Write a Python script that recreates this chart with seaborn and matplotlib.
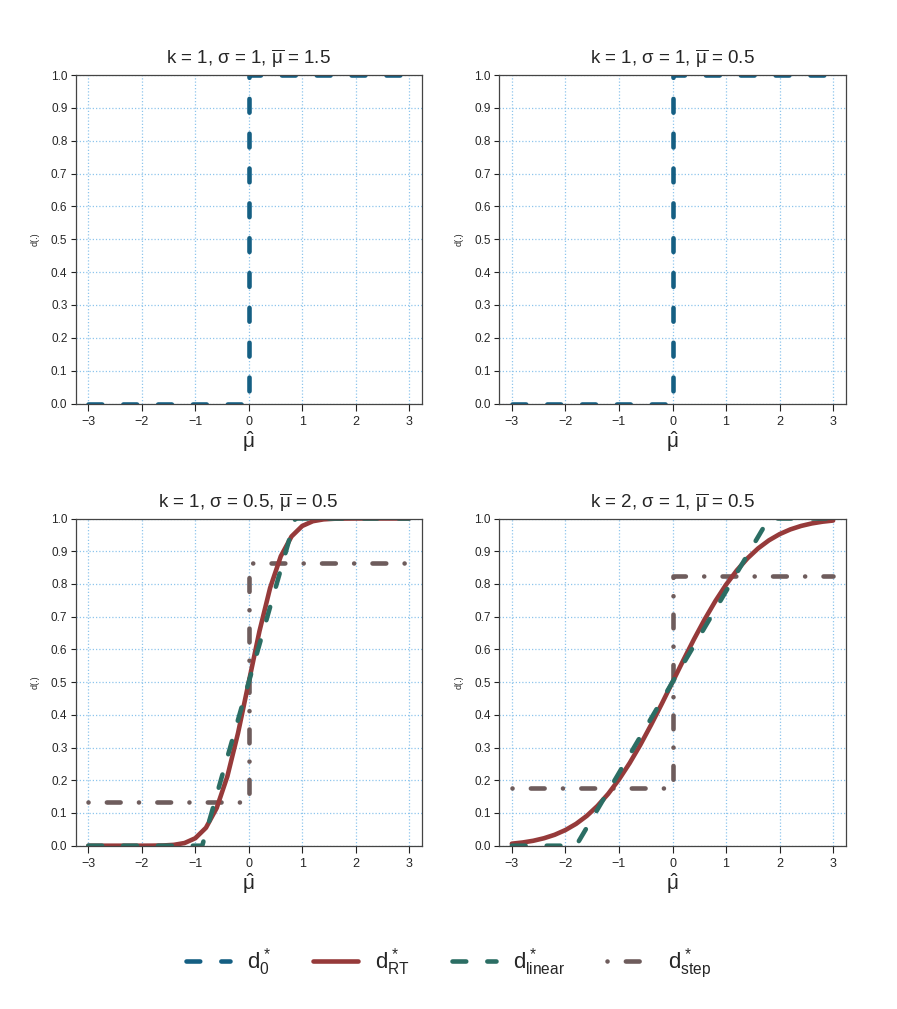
import numpy as np
import pandas as pd
import matplotlib
matplotlib.use("Agg")
import matplotlib.pyplot as plt
from matplotlib.lines import Line2D
import seaborn as sns

# ---------------- data ----------------
titles = [r"k = 1, $\sigma$ = 1, $\overline{\mu}$ = 1.5",
          r"k = 1, $\sigma$ = 1, $\overline{\mu}$ = 0.5",
          r"k = 1, $\sigma$ = 0.5, $\overline{\mu}$ = 0.5",
          r"k = 2, $\sigma$ = 1, $\overline{\mu}$ = 0.5"]

x_ticks = [-3, -2, -1, 0, 1, 2, 3]
y_ticks = [0.0, 0.1, 0.2, 0.3, 0.4, 0.5, 0.6, 0.7, 0.8, 0.9, 1.0]

# d0* : threshold rule (top panels)
d0_x = [-3.0, 0.0, 0.0, 3.0]
d0_y = [0.0, 0.0, 1.0, 1.0]

# common grid for the smooth d_RT curves
mu_grid = [-3.0, -2.8, -2.6, -2.4, -2.2, -2.0, -1.8, -1.6, -1.4, -1.2, -1.0,
           -0.8, -0.6, -0.4, -0.2, 0.0, 0.2, 0.4, 0.6, 0.8, 1.0,
           1.2, 1.4, 1.6, 1.8, 2.0, 2.2, 2.4, 2.6, 2.8, 3.0]

# panel 3 (k = 1, sigma = 0.5)
rt3_y = [0.0, 0.0, 0.0, 0.0, 0.0, 0.0, 0.0002, 0.0007, 0.0026, 0.0082, 0.0228,
         0.0548, 0.1151, 0.2119, 0.3446, 0.5, 0.6554, 0.7881, 0.8849, 0.9452, 0.9772,
         0.9918, 0.9974, 0.9993, 0.9998, 1.0, 1.0, 1.0, 1.0, 1.0, 1.0]
lin3_x = [-3.0, -0.87, 0.87, 3.0]
lin3_y = [0.0, 0.0, 1.0, 1.0]
step3_x = [-3.0, 0.0, 0.0, 3.0]
step3_y = [0.135, 0.135, 0.865, 0.865]

# panel 4 (k = 2, sigma = 1)
rt4_y = [0.0062, 0.0098, 0.0151, 0.0228, 0.0334, 0.0478, 0.0668, 0.0912, 0.1217, 0.1587, 0.2023,
         0.2525, 0.3085, 0.3694, 0.4338, 0.5, 0.5662, 0.6306, 0.6915, 0.7475, 0.7977,
         0.8413, 0.8783, 0.9088, 0.9332, 0.9522, 0.9666, 0.9772, 0.9849, 0.9902, 0.9938]
lin4_x = [-3.0, -1.8, 1.8, 3.0]
lin4_y = [0.0, 0.0, 1.0, 1.0]
step4_x = [-3.0, 0.0, 0.0, 3.0]
step4_y = [0.175, 0.175, 0.825, 0.825]

legend_labels = [r"$d_0^*$", r"$d_{RT}^*$", r"$d_{linear}^*$", r"$d_{step}^*$"]

# ---------------- style ----------------
sns.set_style("ticks")
plt.rcParams["font.family"] = ["Liberation Sans", "DejaVu Sans"]
plt.rcParams["mathtext.fontset"] = "custom"
plt.rcParams["mathtext.rm"] = "Liberation Sans"
plt.rcParams["mathtext.it"] = "Liberation Sans"
plt.rcParams["mathtext.bf"] = "Liberation Sans:bold"
plt.rcParams["mathtext.sf"] = "Liberation Sans"

C_D0 = "#155F83"
C_RT = "#963a3a"
C_LIN = "#2b6e64"
C_STEP = "#6e5c5c"
LW = 3.3
DASH = (0, (3.0, 4.6))
DOTDASH = (0, (0.01, 4.0, 3.0, 4.0))

styles = {
    "d0": dict(color=C_D0, lw=LW, linestyle=DASH),
    "rt": dict(color=C_RT, lw=LW, linestyle="-"),
    "lin": dict(color=C_LIN, lw=LW, linestyle=DASH),
    "step": dict(color=C_STEP, lw=LW, linestyle=DOTDASH),
}

W, H = 897, 1009
fig = plt.figure(figsize=(W / 100, H / 100), dpi=100)

def frac(l, t, r, b):
    return [l / W, 1 - b / H, (r - l) / W, (b - t) / H]

rects = [frac(75.5, 75, 422, 403.5), frac(499, 75, 846, 403.5),
         frac(75.5, 518.5, 422, 845.7), frac(499, 518.5, 846, 845.7)]

def draw(ax, xs, ys, key):
    df = pd.DataFrame({"x": xs, "y": ys})
    st = styles[key]
    sns.lineplot(data=df, x="x", y="y", ax=ax, estimator=None, sort=False,
                 color=st["color"], lw=st["lw"], linestyle=st["linestyle"],
                 dash_capstyle="round", solid_capstyle="round",
                 solid_joinstyle="round", clip_on=True)

for i, rect in enumerate(rects):
    ax = fig.add_axes(rect)
    ax.set_xlim(-3.24, 3.24)
    ax.set_ylim(0, 1)
    ax.set_xticks(x_ticks)
    ax.set_yticks(y_ticks)
    ax.set_yticklabels([f"{v:.1f}" for v in y_ticks])
    ax.set_xticklabels([str(v).replace("-", "\u2212") for v in x_ticks])
    for v in x_ticks:
        ax.axvline(v, color="#8ec5ec", lw=0.9, linestyle=(0, (1, 1.6)), zorder=0.5)
    for v in y_ticks:
        ax.axhline(v, color="#8ec5ec", lw=0.9, linestyle=(0, (1, 1.6)), zorder=0.5)
    if i < 2:
        draw(ax, d0_x, d0_y, "d0")
    elif i == 2:
        draw(ax, step3_x, step3_y, "step")
        draw(ax, mu_grid, rt3_y, "rt")
        draw(ax, lin3_x, lin3_y, "lin")
    else:
        draw(ax, step4_x, step4_y, "step")
        draw(ax, mu_grid, rt4_y, "rt")
        draw(ax, lin4_x, lin4_y, "lin")
    for s in ax.spines.values():
        s.set_visible(True)
        s.set_color("#444444")
        s.set_linewidth(0.9)
    ax.tick_params(axis="y", length=3.8, width=0.8, color="#222222", labelsize=8.5, pad=2)
    ax.tick_params(axis="x", length=5, width=0.8, color="#222222", labelsize=9, pad=4)
    ax.set_title(titles[i], fontsize=13.5, pad=8)
    ax.set_xlabel(r"$\hat{\mu}$", fontsize=15, labelpad=1)
    ax.set_ylabel("d(.)", fontsize=6.5, labelpad=8)

handles = [Line2D([0], [0], **styles[k], dash_capstyle="round", solid_capstyle="round")
           for k in ["d0", "rt", "lin", "step"]]
fig.legend(handles, legend_labels, loc="center", bbox_to_anchor=(0.5, 0.045),
           ncol=4, frameon=False, fontsize=16, handlelength=2.0,
           handletextpad=0.75, columnspacing=1.9)

fig.savefig("out.png", dpi=100)
